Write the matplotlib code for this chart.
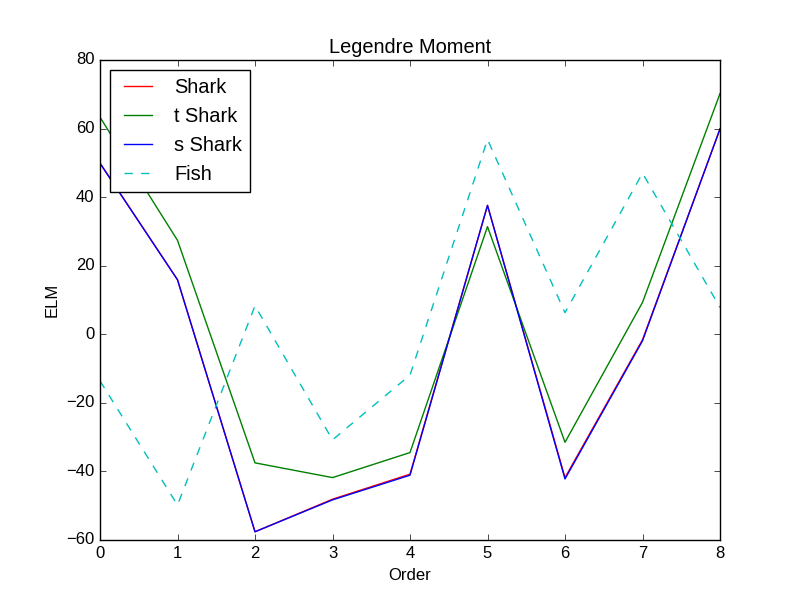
import matplotlib
matplotlib.use('Agg')
import matplotlib.pyplot as plt

plt.style.use('classic')
plt.rcParams['font.family'] = ['Liberation Sans', 'DejaVu Sans']

order = [0, 1, 2, 3, 4, 5, 6, 7, 8]
shark = [49.9, 15.9, -57.6, -48.1, -40.8, 37.6, -41.8, -1.6, 59.9]
t_shark = [63.3, 27.4, -37.5, -41.8, -34.5, 31.4, -31.5, 9.3, 70.2]
s_shark = [49.9, 15.9, -57.6, -48.3, -41.1, 37.6, -42.2, -1.9, 59.9]
fish = [-13.6, -49.8, 8.3, -30.8, -11.9, 56.8, 6.3, 47.0, 7.8]

fig = plt.figure(figsize=(8, 6), dpi=100)
ax = fig.add_subplot(111)
ax.plot(order, shark, 'r-', label='Shark')
ax.plot(order, t_shark, 'g-', label='t Shark')
ax.plot(order, s_shark, 'b-', label='s Shark')
ax.plot(order, fish, 'c--', label='Fish')

ax.set_xlim(0, 8)
ax.set_ylim(-60, 80)
ax.set_title('Legendre Moment')
ax.set_xlabel('Order')
ax.set_ylabel('ELM')
ax.legend(loc='upper left')

fig.savefig('out.png', dpi=100)
